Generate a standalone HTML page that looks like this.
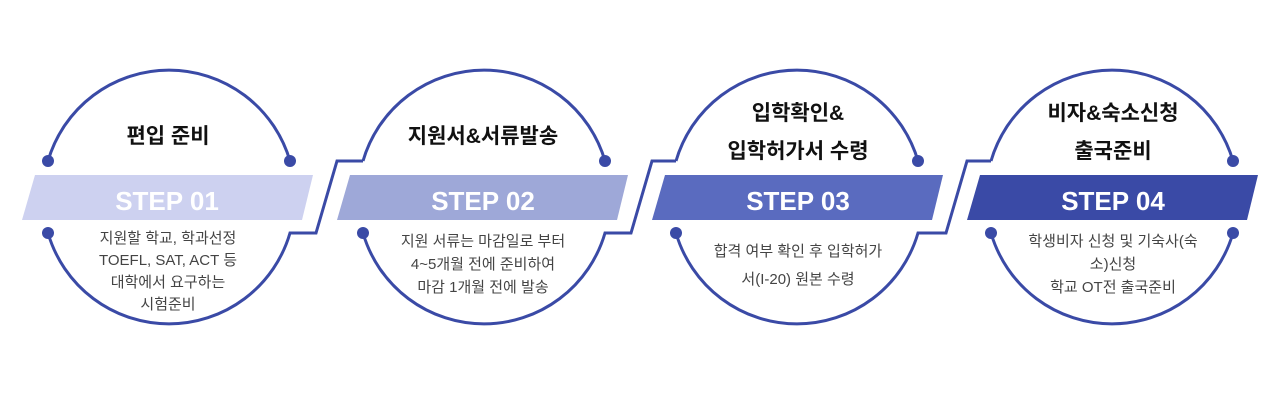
<!DOCTYPE html>
<html><head><meta charset="utf-8"><style>
html,body{margin:0;padding:0;background:#fff;width:1280px;height:400px;overflow:hidden}
svg text{font-family:"Liberation Sans","Noto Sans CJK KR",sans-serif}
.t{font-size:21px;font-weight:bold;fill:#111;text-anchor:middle}
.s{font-size:26px;font-weight:bold;fill:#fff;text-anchor:middle}
.d{font-size:15px;fill:#444;text-anchor:middle}
</style></head><body>
<svg width="1280" height="400" viewBox="0 0 1280 400" xmlns="http://www.w3.org/2000/svg">
<g fill="none" stroke="#3a4aa6" stroke-width="3">
<path d="M48,161 A126,126 0 0 1 290,161"/>
<path d="M48,233 A126,126 0 0 0 290,233 L316,233 L337,161 L363,161"/>
<path d="M363,161 A126,126 0 0 1 605,161"/>
<path d="M363,233 A126,126 0 0 0 605,233 L631,233 L652,161 L676,161"/>
<path d="M676,161 A126,126 0 0 1 918,161"/>
<path d="M676,233 A126,126 0 0 0 918,233 L946,233 L967,161 L991,161"/>
<path d="M991,161 A126,126 0 0 1 1233,161"/>
<path d="M991,233 A126,126 0 0 0 1233,233"/>
</g>
<g fill="#3a4aa6">
<circle cx="48" cy="161" r="6"/><circle cx="290" cy="161" r="6"/><circle cx="48" cy="233" r="6"/>
<circle cx="605" cy="161" r="6"/><circle cx="363" cy="233" r="6"/>
<circle cx="918" cy="161" r="6"/><circle cx="676" cy="233" r="6"/>
<circle cx="1233" cy="161" r="6"/><circle cx="991" cy="233" r="6"/><circle cx="1233" cy="233" r="6"/>
</g>
<polygon points="35,175 313,175 302,220 22,220" fill="#cdd1f0"/>
<polygon points="350,175 628,175 617,220 337,220" fill="#9ea8d8"/>
<polygon points="665,175 943,175 932,220 652,220" fill="#5a6bbf"/>
<polygon points="980,175 1258,175 1247,220 967,220" fill="#3a4aa6"/>
<text class="s" x="167" y="210">STEP 01</text>
<text class="s" x="483" y="210">STEP 02</text>
<text class="s" x="798" y="210">STEP 03</text>
<text class="s" x="1113" y="210">STEP 04</text>
<text class="t" x="168" y="143">편입 준비</text>
<text class="t" x="483" y="143">지원서&amp;서류발송</text>
<text class="t" x="798" y="120">입학확인&amp;</text>
<text class="t" x="798" y="158">입학허가서 수령</text>
<text class="t" x="1113" y="120">비자&amp;숙소신청</text>
<text class="t" x="1113" y="158">출국준비</text>
<text class="d" x="168" y="243">지원할 학교, 학과선정</text>
<text class="d" x="168" y="265">TOEFL, SAT, ACT 등</text>
<text class="d" x="168" y="287">대학에서 요구하는</text>
<text class="d" x="168" y="309">시험준비</text>
<text class="d" x="483" y="246">지원 서류는 마감일로 부터</text>
<text class="d" x="483" y="269">4~5개월 전에 준비하여</text>
<text class="d" x="483" y="292">마감 1개월 전에 발송</text>
<text class="d" x="798" y="256">합격 여부 확인 후 입학허가</text>
<text class="d" x="798" y="284">서(I-20) 원본 수령</text>
<text class="d" x="1113" y="246">학생비자 신청 및 기숙사(숙</text>
<text class="d" x="1113" y="269">소)신청</text>
<text class="d" x="1113" y="292">학교 OT전 출국준비</text>
</svg>
</body></html>
